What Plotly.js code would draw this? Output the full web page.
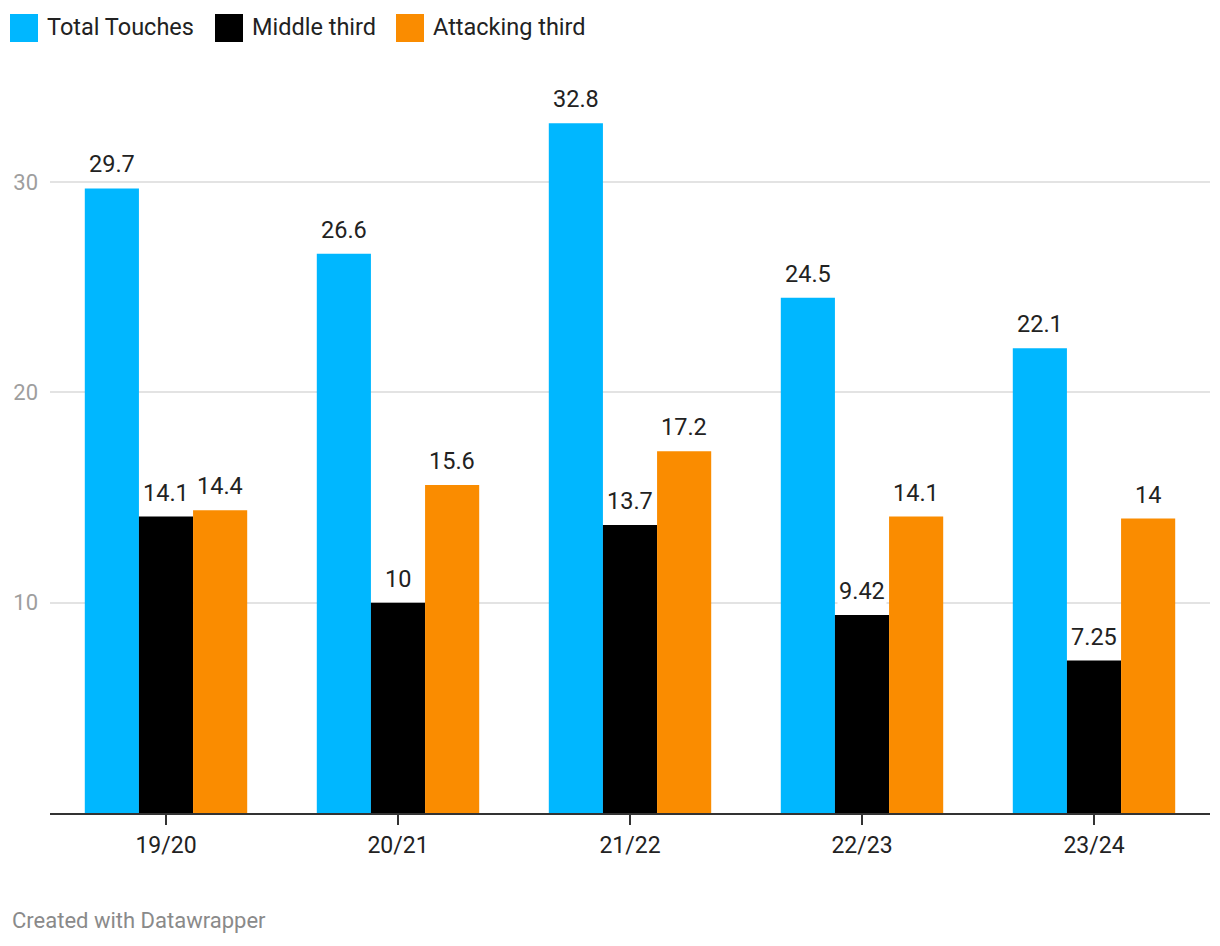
<!DOCTYPE html>
<html>
<head>
<meta charset="utf-8">
<script src="https://cdn.plot.ly/plotly-3.0.1.min.js"></script>
<style>
html,body{margin:0;padding:0;background:#fff;}
#chart{width:1220px;height:946px;}
</style>
</head>
<body>
<div id="chart"></div>
<script>
// ---- data ----
const seasons = ["19/20", "20/21", "21/22", "22/23", "23/24"];
const seriesNames = ["Total Touches", "Middle third", "Attacking third"];
const totalTouches = [29.7, 26.6, 32.8, 24.5, 22.1];
const middleThird = [14.1, 10, 13.7, 9.42, 7.25];
const attackingThird = [14.4, 15.6, 17.2, 14.1, 14];
const yTickValues = [10, 20, 30];
const yTickLabels = ["10", "20", "30"];

// ---- styles ----
const colors = ["#00b7ff", "#000000", "#fa8c00"];
const seriesValues = [totalTouches, middleThird, attackingThird];

const W = 1220, H = 946, L = 50, R = 10, T = 77, B = 133;
const plotW = W - L - R, plotH = H - T - B;
const pxX = px => (px - L) / plotW;
const pxY = py => (H - B - py) / plotH;
const FONT = "Roboto, 'Noto Sans', sans-serif";

const bargap = 0.3;
const catPx = plotW / seasons.length;
const barPx = catPx * (1 - bargap) / seriesValues.length;

const traces = seriesValues.map((vals, i) => ({
  type: "bar",
  name: seriesNames[i],
  x: seasons,
  y: vals,
  marker: {color: colors[i], line: {width: 0}},
  hoverinfo: "none",
  showlegend: false
}));

const annotations = [];
seriesValues.forEach((vals, i) => {
  vals.forEach((v, j) => {
    annotations.push({
      x: seasons[j], y: v, xref: "x", yref: "y",
      text: String(v), showarrow: false,
      xanchor: "center", yanchor: "middle",
      xshift: (i - (seriesValues.length - 1) / 2) * barPx,
      yshift: 24,
      bgcolor: "#ffffff", borderpad: 1,
      font: {family: FONT, size: 23.5, color: "#222222"}
    });
  });
});

// custom legend
const legendSquares = [10, 215, 396];
const legendTexts = [45, 250, 431];
const shapes = [];
seriesNames.forEach((n, i) => {
  shapes.push({
    type: "rect", xref: "paper", yref: "paper",
    x0: pxX(legendSquares[i]), x1: pxX(legendSquares[i] + 28),
    y0: pxY(42), y1: pxY(14),
    fillcolor: colors[i], line: {width: 0}
  });
  annotations.push({
    xref: "paper", yref: "paper",
    x: pxX(legendTexts[i]), y: pxY(27),
    xanchor: "left", yanchor: "middle",
    text: n, showarrow: false,
    font: {family: FONT, size: 23.5, color: "#222222"}
  });
});

annotations.push({
  xref: "paper", yref: "paper",
  x: pxX(10), y: pxY(920),
  xanchor: "left", yanchor: "middle",
  text: "Created with Datawrapper", showarrow: false,
  font: {family: FONT, size: 22, color: "#8a8a8a"}
});

const layout = {
  width: W, height: H,
  margin: {l: L, r: R, t: T, b: B, pad: 0},
  paper_bgcolor: "#ffffff",
  plot_bgcolor: "#ffffff",
  barmode: "group",
  bargap: bargap,
  bargroupgap: 0,
  showlegend: false,
  font: {family: FONT},
  xaxis: {
    type: "category",
    showgrid: false,
    showline: true, linecolor: "#333333", linewidth: 2,
    ticks: "outside", ticklen: 10, tickwidth: 2, tickcolor: "#333333",
    tickfont: {family: FONT, size: 23, color: "#222222"},
    zeroline: false, fixedrange: true
  },
  yaxis: {
    range: [0, 35],
    tickvals: yTickValues, ticktext: yTickLabels,
    showgrid: true, gridcolor: "#e3e3e3", gridwidth: 2,
    showline: false, zeroline: false, ticks: "",
    ticklabelstandoff: 11,
    tickfont: {family: FONT, size: 22, color: "#9e9e9e"},
    fixedrange: true
  },
  shapes: shapes,
  annotations: annotations
};

Plotly.newPlot("chart", traces, layout, {displayModeBar: false, staticPlot: true});
</script>
</body>
</html>
